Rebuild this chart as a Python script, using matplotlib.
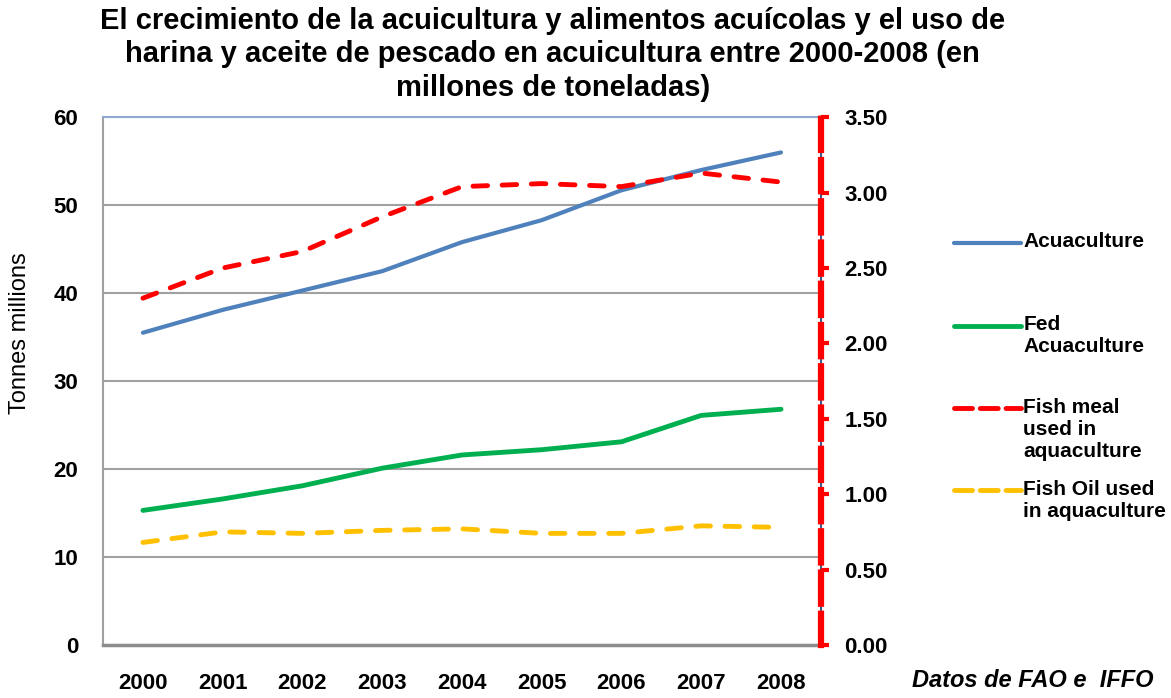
import matplotlib
matplotlib.use("Agg")

import numpy as np
import matplotlib.pyplot as plt
from matplotlib.lines import Line2D

plt.rcParams["font.family"] = ["Liberation Sans", "DejaVu Sans"]

years = ["2000", "2001", "2002", "2003", "2004", "2005", "2006", "2007", "2008"]

# left axis (million tonnes)
acuaculture = [35.5, 38.1, 40.3, 42.5, 45.8, 48.3, 51.7, 54.0, 56.0]
fed_acuaculture = [15.3, 16.6, 18.1, 20.1, 21.6, 22.2, 23.1, 26.1, 26.8]

# right axis (million tonnes)
fish_meal = [2.30, 2.50, 2.61, 2.84, 3.04, 3.06, 3.04, 3.13, 3.07]
fish_oil = [0.68, 0.75, 0.74, 0.76, 0.77, 0.74, 0.74, 0.79, 0.78]

left_ticks = [0, 10, 20, 30, 40, 50, 60]
right_ticks = [0.0, 0.5, 1.0, 1.5, 2.0, 2.5, 3.0, 3.5]

title = ("El crecimiento de la acuicultura y alimentos acuícolas y el uso de\n"
         "harina y aceite de pescado en acuicultura entre 2000-2008 (en\n"
         "millones de toneladas)")

blue = "#4f81bd"
green = "#00b050"
red = "#ff0000"
yellow = "#ffc000"

fig = plt.figure(figsize=(11.71, 6.98), dpi=100)
ax = fig.add_axes([0.088, 0.076, 0.613, 0.756])
ax2 = ax.twinx()

x = np.arange(len(years))

l1, = ax.plot(x, acuaculture, color=blue, linewidth=3.0, solid_capstyle="round", zorder=3)
l2, = ax.plot(x, fed_acuaculture, color=green, linewidth=3.5, solid_capstyle="round", zorder=3)
l3, = ax2.plot(x, fish_meal, color=red, linewidth=3.5, linestyle=(0, (3, 3)),
               dash_capstyle="round", zorder=3)
l4, = ax2.plot(x, fish_oil, color=yellow, linewidth=3.5, linestyle=(0, (3, 3)),
               dash_capstyle="round", zorder=3)

ax.set_xlim(-0.5, len(years) - 0.5)
ax.set_ylim(0, 60)
ax2.set_ylim(0, 3.5)

ax.set_yticks(left_ticks)
ax.set_yticklabels([str(t) for t in left_ticks], fontsize=16, fontweight="bold")
ax2.set_yticks(right_ticks)
ax2.set_yticklabels([f"{t:.2f}" for t in right_ticks], fontsize=16, fontweight="bold")
ax.set_xticks(x)
ax.set_xticklabels(years, fontsize=16, fontweight="bold")

ax.grid(axis="y", color="#a0a0a0", linewidth=1.5)
ax.set_axisbelow(True)

ax.tick_params(axis="y", length=0, pad=18)
ax.tick_params(axis="x", length=0, pad=20)
ax2.tick_params(axis="y", length=6, width=3, color=red, pad=11, direction="out")

ax.spines["left"].set_color("#a0a0a0")
ax.spines["left"].set_linewidth(1.5)
ax.spines["bottom"].set_color("#8c8c8c")
ax.spines["bottom"].set_linewidth(2.5)
ax.spines["top"].set_color("#8eaad0")
ax.spines["top"].set_linewidth(1.5)
ax.spines["right"].set_color("#385d8a")
ax.spines["right"].set_linewidth(1.5)

for s in ["left", "top", "bottom"]:
    ax2.spines[s].set_visible(False)
ax2.spines["right"].set_color(red)
ax2.spines["right"].set_linewidth(4.5)
ax2.spines["right"].set_linestyle((0, (5, 1.6)))

ax.set_ylabel("Tonnes millions", fontsize=17, labelpad=12)
ax.yaxis.set_label_coords(-0.1, 0.59)

fig.text(0.472, 0.99, title, ha="center", va="top", fontsize=21,
         fontweight="bold", linespacing=1.25)

fig.text(0.985, 0.008, "Datos de FAO e  IFFO", ha="right", va="bottom",
         fontsize=17, fontstyle="italic", fontweight="bold")

# legend drawn by hand so that each handle sits on the first text line
legend_items = [
    (l1, "Acuaculture", 0.652),
    (l2, "Fed\nAcuaculture", 0.533),
    (l3, "Fish meal\nused in\naquaculture", 0.415),
    (l4, "Fish Oil used\nin aquaculture", 0.298),
]
for line, label, ly in legend_items:
    fig.add_artist(Line2D([0.815, 0.872], [ly, ly], transform=fig.transFigure,
                          color=line.get_color(), linewidth=line.get_linewidth(),
                          linestyle=line.get_linestyle(),
                          solid_capstyle="round", dash_capstyle="round"))
    fig.text(0.874, ly + 0.015, label, ha="left", va="top", fontsize=15,
             fontweight="bold", linespacing=1.2)

plt.savefig("out.png", dpi=100)
plt.close(fig)
